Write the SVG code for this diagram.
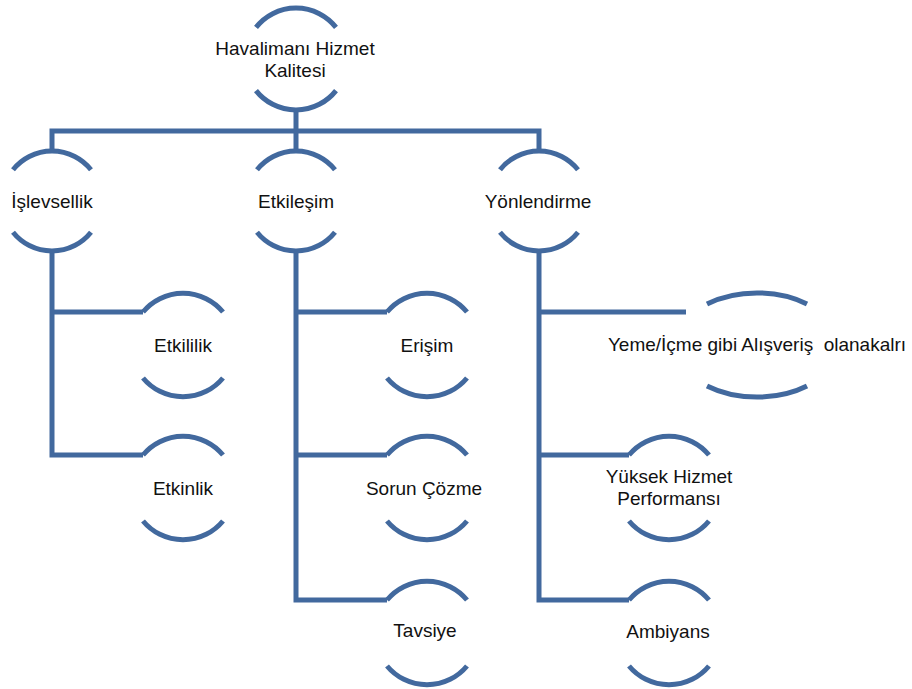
<svg xmlns="http://www.w3.org/2000/svg" width="912" height="689" viewBox="0 0 912 689">
<style>
.arc{fill:none;stroke:#42699E;stroke-width:5;stroke-linecap:butt}
.con{fill:none;stroke:#42699E;stroke-width:5;stroke-linecap:butt;stroke-linejoin:miter}
text{font-family:"Liberation Sans",Arial,sans-serif;font-size:19px;fill:#111;text-anchor:middle}
</style>
<rect width="912" height="689" fill="#fff"/>
<g id="connectors">
<path class="con" d="M296 110V131M52 151V131H539V151M296 131V151"/>
<path class="con" d="M52 251V455H143M52 312H143"/>
<path class="con" d="M296 251V600H387M296 312H387M296 455H387"/>
<path class="con" d="M539 251V600H629M539 312H686M539 455H629"/>
</g>
<g id="n0">
<path class="arc" d="M256 27.4A51 51 0 0 1 336 27.4M256 90.6A51 51 0 0 0 336 90.6"/>
<text x="295" y="55">Havalimanı Hizmet</text>
<text x="295" y="77">Kalitesi</text>
</g>
<g id="n1">
<path class="arc" d="M13 169.7A50 50 0 0 1 91 169.7M13 232.3A50 50 0 0 0 91 232.3"/>
<text x="52" y="208">İşlevsellik</text>
</g>
<g id="n2">
<path class="arc" d="M257 169.7A50 50 0 0 1 335 169.7M257 232.3A50 50 0 0 0 335 232.3"/>
<text x="296" y="208">Etkileşim</text>
</g>
<g id="n3">
<path class="arc" d="M500 169.7A50 50 0 0 1 578 169.7M500 232.3A50 50 0 0 0 578 232.3"/>
<text x="538" y="208">Yönlendirme</text>
</g>
<g id="n4">
<path class="arc" d="M143 312A52 52 0 0 1 223 312M143 378A52 52 0 0 0 223 378"/>
<text x="183" y="352">Etkililik</text>
</g>
<g id="n5">
<path class="arc" d="M143 455A52 52 0 0 1 223 455M143 521A52 52 0 0 0 223 521"/>
<text x="183" y="495">Etkinlik</text>
</g>
<g id="n6">
<path class="arc" d="M387 312A52 52 0 0 1 467 312M387 378A52 52 0 0 0 467 378"/>
<text x="427" y="352">Erişim</text>
</g>
<g id="n7">
<path class="arc" d="M387 455A52 52 0 0 1 467 455M387 521A52 52 0 0 0 467 521"/>
<text x="424" y="495">Sorun Çözme</text>
</g>
<g id="n8">
<path class="arc" d="M387 600A52 52 0 0 1 467 600M387 666A52 52 0 0 0 467 666"/>
<text x="425" y="637">Tavsiye</text>
</g>
<g id="n9">
<path class="arc" d="M707 304A81 52 0 0 1 807 304M707 386A81 52 0 0 0 807 386"/>
<text x="757" y="351" style="white-space:pre">Yeme/İçme gibi Alışveriş  olanakalrı</text>
</g>
<g id="n10">
<path class="arc" d="M629 455A52 52 0 0 1 709 455M629 521A52 52 0 0 0 709 521"/>
<text x="669" y="483">Yüksek Hizmet</text>
<text x="669" y="505">Performansı</text>
</g>
<g id="n11">
<path class="arc" d="M629 600A52 52 0 0 1 709 600M629 666A52 52 0 0 0 709 666"/>
<text x="668" y="638">Ambiyans</text>
</g>
</svg>
